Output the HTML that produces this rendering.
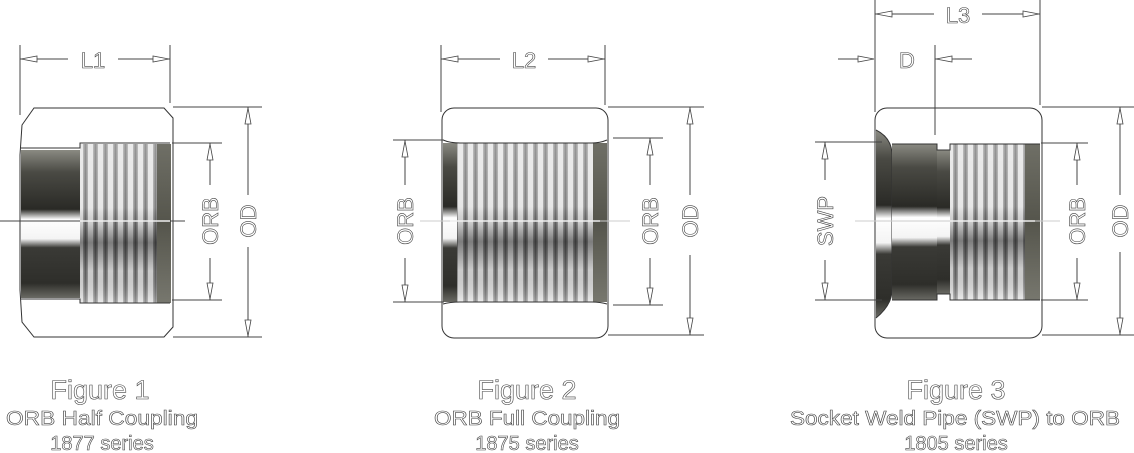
<!DOCTYPE html>
<html><head><meta charset="utf-8"><style>
html,body{margin:0;padding:0;background:#fff;width:1134px;height:453px;overflow:hidden}
svg{display:block}
.l{stroke:#333;stroke-width:1;fill:none}
.d{stroke:#444;stroke-width:1;fill:none}
.a{fill:#fff;stroke:#444;stroke-width:0.8}
.t{font-family:"Liberation Sans",sans-serif;fill:#fff;stroke:#444;stroke-width:0.6;text-anchor:middle}
</style></head><body>
<svg width="1134" height="453" viewBox="0 0 1134 453" xmlns="http://www.w3.org/2000/svg">
<defs>
<pattern id="thr" width="10" height="400" patternUnits="userSpaceOnUse">
<rect width="10" height="400" fill="#e2e2e2"/>
<rect x="3" width="5" height="400" fill="#9a9a9a"/>
<rect x="4.5" width="2" height="400" fill="#6a6a6a"/>
</pattern>
<linearGradient id="shade" x1="0" y1="0" x2="0" y2="1">
<stop offset="0" stop-color="#fff" stop-opacity="0.3"/>
<stop offset="0.4" stop-color="#fff" stop-opacity="0.15"/>
<stop offset="0.5" stop-color="#000" stop-opacity="0.1"/>
<stop offset="0.62" stop-color="#000" stop-opacity="0.45"/>
<stop offset="0.8" stop-color="#000" stop-opacity="0.1"/>
<stop offset="1" stop-color="#fff" stop-opacity="0.3"/>
</linearGradient>
<linearGradient id="bore" x1="0" y1="0" x2="0" y2="1">
<stop offset="0" stop-color="#8a8a82"/>
<stop offset="0.15" stop-color="#4a4a44"/>
<stop offset="0.4" stop-color="#2a2a26"/>
<stop offset="0.47" stop-color="#fff"/>
<stop offset="0.6" stop-color="#f4f4f4"/>
<stop offset="0.66" stop-color="#3a3a36"/>
<stop offset="0.9" stop-color="#2e2e2a"/>
<stop offset="1" stop-color="#6a6a64"/>
</linearGradient>
<linearGradient id="band" x1="0" y1="0" x2="0" y2="1">
<stop offset="0" stop-color="#6f6f66"/>
<stop offset="0.5" stop-color="#55554c"/>
<stop offset="1" stop-color="#77776e"/>
</linearGradient>
</defs>

<!-- ========== FIGURE 1 ========== -->
<path class="l" d="M34 108 L164 108 L173 118 L173 327 L164 337 L34 337 L22 322 L20 290 L20 155 L22 125 Z"/>
<rect x="21" y="150" width="59" height="148" fill="url(#bore)"/>
<rect x="80" y="144" width="77" height="159" fill="url(#thr)"/>
<rect x="80" y="144" width="77" height="159" fill="url(#shade)"/>
<rect x="157" y="144" width="14" height="159" fill="url(#band)"/>
<path class="l" d="M21 148 L80 148 L80 143 L170 143 M21 299 L80 299 L80 303 L170 303"/>
<line class="d" x1="0" y1="221" x2="185" y2="221" stroke="#ddd"/>
<line x1="80" y1="221" x2="170" y2="221" stroke="#eee" stroke-width="1.5"/>
<!-- L1 -->
<line class="d" x1="20" y1="45" x2="20" y2="115"/>
<line class="d" x1="170" y1="45" x2="170" y2="103"/>
<line class="d" x1="20" y1="59" x2="68" y2="59"/><line class="d" x1="118" y1="59" x2="170" y2="59"/>
<polygon class="a" points="21,59 37,56 37,62"/><polygon class="a" points="169,59 153,56 153,62"/>
<text class="t" x="93" y="68" font-size="22">L1</text>
<!-- ORB -->
<line class="d" x1="172" y1="143" x2="222" y2="143"/><line class="d" x1="172" y1="300" x2="222" y2="300"/>
<line class="d" x1="210" y1="143" x2="210" y2="185"/><line class="d" x1="210" y1="258" x2="210" y2="300"/>
<polygon class="a" points="210,144 207,160 213,160"/><polygon class="a" points="210,299 207,283 213,283"/>
<text class="t" font-size="22" transform="translate(218 221) rotate(-90)">ORB</text>
<!-- OD -->
<line class="d" x1="173" y1="107" x2="262" y2="107"/><line class="d" x1="173" y1="337" x2="262" y2="337"/>
<line class="d" x1="248" y1="107" x2="248" y2="195"/><line class="d" x1="248" y1="247" x2="248" y2="337"/>
<polygon class="a" points="248,108 245,124 251,124"/><polygon class="a" points="248,336 245,320 251,320"/>
<text class="t" font-size="22" transform="translate(256 221) rotate(-90)">OD</text>

<!-- ========== FIGURE 2 ========== -->
<rect class="l" x="442" y="108" width="166" height="230" rx="12"/>
<rect x="457" y="143" width="136" height="159" fill="url(#thr)"/>
<rect x="457" y="143" width="136" height="159" fill="url(#shade)"/>
<rect x="443" y="143" width="14" height="159" fill="url(#bore)"/>
<rect x="593" y="143" width="14" height="159" fill="url(#band)"/>
<path class="l" d="M443 140 Q450 143 460 143 L592 143 Q600 143 607 140 M443 304 Q450 302 460 302 L592 302 Q600 302 607 304"/>
<line x1="420" y1="221" x2="630" y2="221" stroke="#ccc" stroke-width="1"/>
<line x1="450" y1="221" x2="600" y2="221" stroke="#eee" stroke-width="1.5"/>
<!-- L2 -->
<line class="d" x1="441" y1="45" x2="441" y2="112"/><line class="d" x1="605" y1="45" x2="605" y2="105"/>
<line class="d" x1="441" y1="59" x2="500" y2="59"/><line class="d" x1="548" y1="59" x2="605" y2="59"/>
<polygon class="a" points="442,59 458,56 458,62"/><polygon class="a" points="604,59 588,56 588,62"/>
<text class="t" x="524" y="68" font-size="22">L2</text>
<!-- left ORB -->
<line class="d" x1="393" y1="140" x2="444" y2="140"/><line class="d" x1="393" y1="302" x2="444" y2="302"/>
<line class="d" x1="405" y1="140" x2="405" y2="185"/><line class="d" x1="405" y1="258" x2="405" y2="302"/>
<polygon class="a" points="405,141 402,157 408,157"/><polygon class="a" points="405,301 402,285 408,285"/>
<text class="t" font-size="22" transform="translate(413 221) rotate(-90)">ORB</text>
<!-- right ORB -->
<line class="d" x1="613" y1="138" x2="663" y2="138"/><line class="d" x1="613" y1="305" x2="663" y2="305"/>
<line class="d" x1="650" y1="138" x2="650" y2="185"/><line class="d" x1="650" y1="258" x2="650" y2="305"/>
<polygon class="a" points="650,139 647,155 653,155"/><polygon class="a" points="650,304 647,288 653,288"/>
<text class="t" font-size="22" transform="translate(658 221) rotate(-90)">ORB</text>
<!-- OD -->
<line class="d" x1="608" y1="107" x2="704" y2="107"/><line class="d" x1="608" y1="335" x2="704" y2="335"/>
<line class="d" x1="690" y1="107" x2="690" y2="195"/><line class="d" x1="690" y1="255" x2="690" y2="335"/>
<polygon class="a" points="690,108 687,124 693,124"/><polygon class="a" points="690,334 687,318 693,318"/>
<text class="t" font-size="22" transform="translate(698 221) rotate(-90)">OD</text>

<!-- ========== FIGURE 3 ========== -->
<rect class="l" x="875" y="108" width="167" height="230" rx="12"/>
<path d="M876 130 Q892 138 892 155 L892 290 Q892 305 876 318 Z" fill="url(#bore)"/>
<path class="l" d="M876 130 Q892 138 892 155 L892 290 Q892 305 876 318"/>
<rect x="892" y="144" width="45" height="156" fill="url(#bore)"/>
<rect x="937" y="150" width="13" height="144" fill="url(#bore)"/>
<rect x="950" y="144" width="75" height="156" fill="url(#thr)"/>
<rect x="950" y="144" width="75" height="156" fill="url(#shade)"/>
<rect x="1025" y="144" width="15" height="156" fill="url(#band)"/>
<path class="l" d="M892 144 L937 144 L937 150 L950 150 L950 144 L1040 144 M892 300 L937 300 L937 294 L950 294 L950 300 L1040 300"/>
<line x1="855" y1="221" x2="1060" y2="221" stroke="#ccc"/>
<line x1="950" y1="221" x2="1035" y2="221" stroke="#eee" stroke-width="1.5"/>
<!-- L3 -->
<line class="d" x1="875" y1="0" x2="875" y2="112"/><line class="d" x1="1040" y1="0" x2="1040" y2="105"/>
<line class="d" x1="875" y1="14" x2="934" y2="14"/><line class="d" x1="982" y1="14" x2="1040" y2="14"/>
<polygon class="a" points="876,14 892,11 892,17"/><polygon class="a" points="1039,14 1023,11 1023,17"/>
<text class="t" x="958" y="23" font-size="22">L3</text>
<!-- D -->
<line class="d" x1="935" y1="45" x2="935" y2="135"/>
<line class="d" x1="838" y1="59" x2="874" y2="59"/><line class="d" x1="935" y1="59" x2="972" y2="59"/>
<polygon class="a" points="874,59 858,56 858,62"/><polygon class="a" points="936,59 952,56 952,62"/>
<text class="t" x="907" y="68" font-size="22">D</text>
<!-- SWP -->
<line class="d" x1="815" y1="142" x2="882" y2="142"/><line class="d" x1="815" y1="300" x2="882" y2="300"/>
<line class="d" x1="825" y1="142" x2="825" y2="180"/><line class="d" x1="825" y1="260" x2="825" y2="300"/>
<polygon class="a" points="825,143 822,159 828,159"/><polygon class="a" points="825,299 822,283 828,283"/>
<text class="t" font-size="22" transform="translate(833 221) rotate(-90)">SWP</text>
<!-- ORB -->
<line class="d" x1="1041" y1="143" x2="1088" y2="143"/><line class="d" x1="1041" y1="300" x2="1088" y2="300"/>
<line class="d" x1="1077" y1="143" x2="1077" y2="185"/><line class="d" x1="1077" y1="258" x2="1077" y2="300"/>
<polygon class="a" points="1077,144 1074,160 1080,160"/><polygon class="a" points="1077,299 1074,283 1080,283"/>
<text class="t" font-size="22" transform="translate(1085 221) rotate(-90)">ORB</text>
<!-- OD -->
<line class="d" x1="1042" y1="107" x2="1134" y2="107"/><line class="d" x1="1042" y1="335" x2="1134" y2="335"/>
<line class="d" x1="1120" y1="107" x2="1120" y2="195"/><line class="d" x1="1120" y1="252" x2="1120" y2="335"/>
<polygon class="a" points="1120,108 1117,124 1123,124"/><polygon class="a" points="1120,334 1117,318 1123,318"/>
<text class="t" font-size="22" transform="translate(1128 221) rotate(-90)">OD</text>

<!-- captions -->
<text class="t" x="100" y="399" font-size="27">Figure 1</text>
<text class="t" x="102" y="425" font-size="20" textLength="192" lengthAdjust="spacingAndGlyphs">ORB Half Coupling</text>
<text class="t" x="102" y="450" font-size="20">1877 series</text>
<text class="t" x="527" y="399" font-size="27">Figure 2</text>
<text class="t" x="527" y="425" font-size="20" textLength="186" lengthAdjust="spacingAndGlyphs">ORB Full Coupling</text>
<text class="t" x="527" y="450" font-size="20">1875 series</text>
<text class="t" x="956" y="399" font-size="27">Figure 3</text>
<text class="t" x="955" y="425" font-size="20" textLength="330" lengthAdjust="spacingAndGlyphs">Socket Weld Pipe (SWP) to ORB</text>
<text class="t" x="956" y="450" font-size="20">1805 series</text>
</svg>
</body></html>
